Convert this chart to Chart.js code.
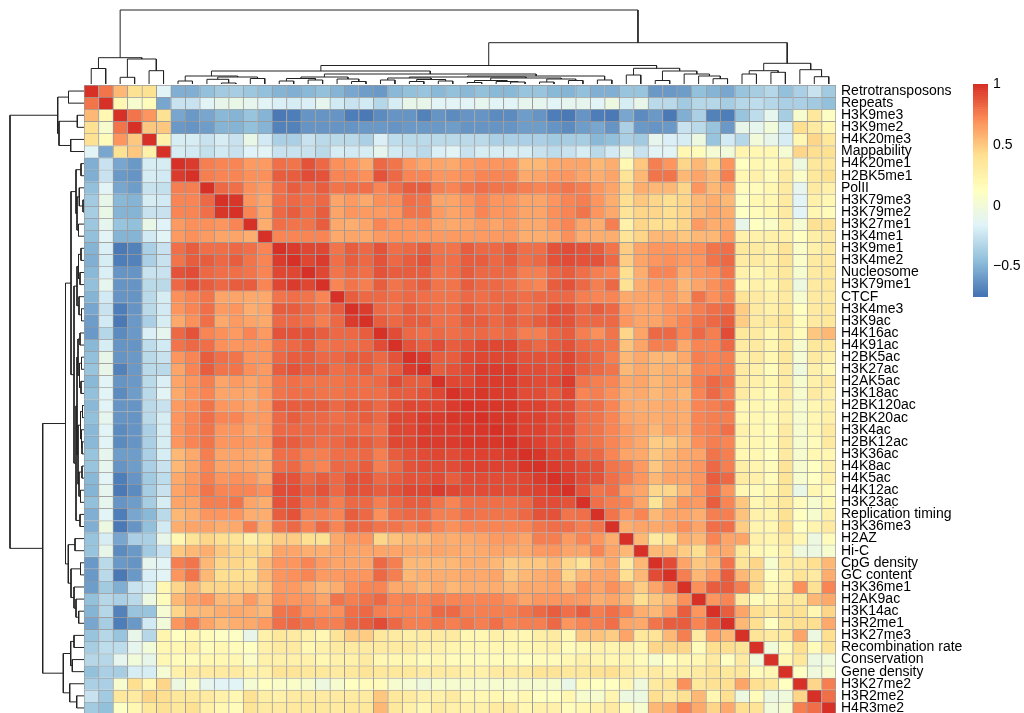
<!DOCTYPE html>
<html>
<head>
<meta charset="utf-8">
<script src="https://cdn.jsdelivr.net/npm/chart.js@4.4.1/dist/chart.umd.min.js"></script>
<style>
  html, body { margin: 0; padding: 0; background: #fff; overflow: hidden; }
  body { width: 1024px; height: 713px; position: relative; }
  canvas { position: absolute; }
</style>
</head>
<body>
<canvas id="topTree" width="752" height="84" style="left:84px;top:0px"></canvas>
<canvas id="leftTree" width="84" height="629" style="left:0px;top:85px"></canvas>
<canvas id="heat" width="940" height="629" style="left:84px;top:85px"></canvas>
<canvas id="key" width="51" height="233" style="left:973px;top:74px"></canvas>
<script>
// row / column order as drawn
const labels = ['Retrotransposons','Repeats','H3K9me3','H3K9me2','H4K20me3','Mappability','H4K20me1','H2BK5me1','PolII',
  'H3K79me3','H3K79me2','H3K27me1','H3K4me1','H3K9me1','H3K4me2','Nucleosome','H3K79me1','CTCF','H3K4me3','H3K9ac',
  'H4K16ac','H4K91ac','H2BK5ac','H3K27ac','H2AK5ac','H3K18ac','H2BK120ac','H2BK20ac','H3K4ac','H2BK12ac','H3K36ac',
  'H4K8ac','H4K5ac','H4K12ac','H3K23ac','Replication timing','H3K36me3','H2AZ','Hi-C','CpG density','GC content',
  'H3K36me1','H2AK9ac','H3K14ac','H3R2me1','H3K27me3','Recombination rate','Conservation','Gene density','H3K27me2',
  'H3R2me2','H4R3me2'];

// upper triangle of the correlation matrix: row i holds columns i+1 .. 52 (diagonal is 1)
const corrUpper = [
  [0.78,0.55,0.4,0.4,-0.15,-0.52,-0.52,-0.45,-0.4,-0.38,-0.41,-0.44,-0.5,-0.52,-0.48,-0.45,-0.5,-0.55,-0.58,-0.6,-0.48,-0.45,-0.42,-0.48,-0.45,-0.48,-0.45,-0.48,-0.48,-0.42,-0.42,-0.48,-0.5,-0.45,-0.52,-0.52,-0.42,-0.42,-0.6,-0.6,-0.58,-0.45,-0.5,-0.55,-0.42,-0.38,-0.32,-0.45,-0.35,-0.25,-0.4],
  [0.2,0.05,0.15,-0.55,-0.25,-0.25,-0.15,-0.1,-0.08,-0.12,-0.15,-0.18,-0.2,-0.18,-0.12,-0.22,-0.25,-0.22,-0.32,-0.2,-0.1,-0.1,-0.15,-0.15,-0.15,-0.12,-0.15,-0.15,-0.12,-0.12,-0.15,-0.12,-0.12,-0.15,-0.05,-0.2,-0.1,-0.3,-0.3,-0.4,-0.32,-0.32,-0.38,-0.32,-0.28,-0.32,-0.35,-0.35,-0.4,-0.45],
  [0.78,0.68,0.4,-0.55,-0.6,-0.55,-0.48,-0.5,-0.42,-0.5,-0.72,-0.7,-0.62,-0.62,-0.62,-0.7,-0.72,-0.65,-0.62,-0.62,-0.68,-0.62,-0.65,-0.62,-0.62,-0.65,-0.65,-0.58,-0.62,-0.7,-0.72,-0.62,-0.7,-0.72,-0.55,-0.65,-0.6,-0.72,-0.52,-0.35,-0.68,-0.7,-0.42,-0.28,-0.12,-0.38,0.05,0.35,0.1],
  [0.5,0.5,-0.6,-0.62,-0.58,-0.5,-0.5,-0.45,-0.5,-0.68,-0.68,-0.62,-0.62,-0.62,-0.62,-0.6,-0.6,-0.62,-0.6,-0.6,-0.6,-0.58,-0.62,-0.62,-0.62,-0.62,-0.58,-0.58,-0.62,-0.65,-0.58,-0.55,-0.62,-0.35,-0.6,-0.62,-0.6,-0.25,-0.3,-0.42,-0.6,-0.1,-0.12,0,-0.2,0.42,0.3,0.2],
  [0.25,-0.2,-0.2,-0.25,-0.2,-0.25,-0.08,-0.22,-0.35,-0.35,-0.25,-0.3,-0.3,-0.3,-0.35,-0.18,-0.28,-0.3,-0.3,-0.3,-0.3,-0.3,-0.3,-0.35,-0.35,-0.35,-0.35,-0.4,-0.38,-0.38,-0.48,-0.45,-0.35,-0.4,-0.12,-0.18,-0.2,-0.05,-0.42,-0.22,-0.32,0,-0.1,-0.2,0.2,0.45,0.35],
  [-0.2,-0.22,-0.27,-0.22,-0.25,-0.17,-0.15,-0.25,-0.25,-0.25,-0.3,-0.2,-0.22,-0.2,-0.12,-0.22,-0.25,-0.3,-0.18,-0.15,-0.25,-0.2,-0.2,-0.2,-0.2,-0.25,-0.28,-0.25,-0.2,-0.3,-0.22,-0.1,-0.25,-0.15,-0.15,0.2,0.15,0.02,0,0.22,0.2,0.18,0.02,0.45,0.42,0.4],
  [0.95,0.75,0.72,0.72,0.65,0.65,0.8,0.78,0.88,0.82,0.7,0.68,0.6,0.82,0.78,0.68,0.62,0.62,0.6,0.65,0.68,0.68,0.68,0.55,0.55,0.6,0.62,0.62,0.55,0.58,0.2,0.5,0.75,0.68,0.45,0.55,0.45,0.68,0.12,0.2,0.15,0.25,-0.05,0.35,0.35],
  [0.75,0.72,0.72,0.7,0.7,0.85,0.85,0.9,0.88,0.72,0.72,0.7,0.88,0.82,0.72,0.72,0.68,0.68,0.7,0.72,0.72,0.72,0.6,0.62,0.65,0.68,0.62,0.58,0.62,0.38,0.55,0.78,0.78,0.55,0.62,0.55,0.75,0.2,0.25,0.15,0.3,0.08,0.35,0.4],
  [0.82,0.8,0.7,0.65,0.8,0.85,0.82,0.85,0.78,0.8,0.8,0.72,0.8,0.85,0.85,0.75,0.72,0.78,0.8,0.78,0.78,0.75,0.72,0.75,0.78,0.75,0.68,0.62,0.45,0.58,0.55,0.55,0.45,0.68,0.55,0.62,0.15,0.15,0.2,0.3,-0.12,0.3,0.25],
  [0.97,0.68,0.62,0.8,0.82,0.8,0.82,0.62,0.65,0.6,0.7,0.7,0.8,0.78,0.62,0.62,0.68,0.72,0.68,0.68,0.62,0.62,0.68,0.72,0.75,0.68,0.58,0.42,0.5,0.45,0.42,0.45,0.55,0.58,0.55,0.1,0.2,0.2,0.3,-0.15,0.25,0.2],
  [0.72,0.62,0.82,0.85,0.8,0.85,0.62,0.68,0.65,0.65,0.68,0.78,0.78,0.65,0.62,0.65,0.72,0.68,0.68,0.62,0.62,0.7,0.72,0.78,0.68,0.6,0.38,0.45,0.45,0.42,0.45,0.55,0.6,0.58,0.1,0.15,0.2,0.3,-0.15,0.2,0.15],
  [0.58,0.8,0.78,0.78,0.85,0.6,0.58,0.62,0.72,0.68,0.68,0.7,0.62,0.6,0.62,0.65,0.62,0.65,0.6,0.6,0.68,0.72,0.62,0.58,0.75,0.25,0.45,0.42,0.42,0.45,0.65,0.58,0.6,-0.1,0.12,0.08,0.25,0.02,0.4,0.38],
  [0.72,0.72,0.72,0.72,0.6,0.62,0.6,0.65,0.68,0.68,0.65,0.65,0.65,0.65,0.65,0.65,0.65,0.58,0.58,0.6,0.7,0.58,0.58,0.58,0.38,0.45,0.55,0.55,0.5,0.55,0.55,0.65,0.25,0.25,0.25,0.25,0.12,0.28,0.3],
  [0.95,0.92,0.92,0.78,0.85,0.82,0.88,0.8,0.82,0.85,0.78,0.78,0.85,0.82,0.82,0.85,0.8,0.8,0.88,0.9,0.88,0.85,0.78,0.48,0.62,0.68,0.68,0.65,0.7,0.78,0.8,0.35,0.3,0.25,0.38,0.08,0.25,0.3],
  [0.92,0.95,0.8,0.85,0.82,0.88,0.82,0.85,0.88,0.8,0.8,0.85,0.85,0.82,0.85,0.8,0.82,0.88,0.9,0.88,0.88,0.82,0.48,0.62,0.68,0.7,0.65,0.68,0.78,0.82,0.3,0.3,0.25,0.38,0.08,0.3,0.32],
  [0.92,0.78,0.82,0.8,0.88,0.85,0.85,0.85,0.78,0.8,0.85,0.82,0.82,0.82,0.75,0.75,0.82,0.85,0.8,0.75,0.72,0.42,0.58,0.72,0.72,0.6,0.68,0.7,0.78,0.25,0.2,0.25,0.35,0.05,0.3,0.35],
  [0.72,0.78,0.75,0.85,0.78,0.82,0.85,0.78,0.78,0.85,0.82,0.82,0.8,0.75,0.72,0.85,0.88,0.82,0.75,0.82,0.4,0.58,0.65,0.65,0.55,0.62,0.7,0.75,0.2,0.25,0.2,0.35,-0.05,0.3,0.35],
  [0.85,0.82,0.82,0.8,0.82,0.8,0.78,0.78,0.82,0.8,0.82,0.82,0.8,0.82,0.82,0.82,0.75,0.72,0.72,0.6,0.62,0.62,0.65,0.58,0.78,0.7,0.75,0.38,0.3,0.25,0.3,0.05,0.3,0.3],
  [0.95,0.82,0.8,0.85,0.82,0.8,0.8,0.85,0.82,0.82,0.85,0.8,0.82,0.88,0.88,0.82,0.85,0.82,0.65,0.62,0.62,0.68,0.7,0.75,0.8,0.82,0.48,0.3,0.25,0.35,0.12,0.3,0.35],
  [0.85,0.82,0.85,0.85,0.8,0.8,0.85,0.85,0.82,0.85,0.82,0.85,0.88,0.88,0.82,0.82,0.82,0.68,0.62,0.62,0.68,0.72,0.78,0.82,0.85,0.48,0.3,0.3,0.38,0.15,0.3,0.35],
  [0.9,0.82,0.8,0.82,0.8,0.82,0.82,0.8,0.82,0.75,0.75,0.82,0.85,0.75,0.7,0.78,0.45,0.62,0.82,0.82,0.72,0.82,0.75,0.9,0.35,0.3,0.2,0.35,0.15,0.5,0.55],
  [0.88,0.85,0.9,0.85,0.88,0.92,0.92,0.92,0.85,0.82,0.85,0.88,0.82,0.8,0.78,0.52,0.62,0.75,0.75,0.6,0.72,0.72,0.82,0.3,0.3,0.2,0.35,0.05,0.35,0.35],
  [0.95,0.85,0.85,0.92,0.92,0.92,0.92,0.88,0.88,0.88,0.92,0.85,0.82,0.75,0.55,0.6,0.55,0.55,0.6,0.75,0.72,0.75,0.28,0.3,0.2,0.35,0.02,0.3,0.25],
  [0.85,0.88,0.92,0.95,0.95,0.95,0.9,0.9,0.88,0.92,0.85,0.82,0.78,0.55,0.6,0.55,0.58,0.55,0.72,0.72,0.75,0.3,0.25,0.15,0.3,-0.02,0.25,0.2],
  [0.92,0.92,0.95,0.95,0.95,0.92,0.9,0.9,0.95,0.78,0.75,0.72,0.6,0.62,0.55,0.58,0.6,0.75,0.82,0.78,0.3,0.25,0.2,0.3,0.05,0.25,0.3],
  [0.95,0.97,0.95,0.95,0.9,0.9,0.85,0.92,0.72,0.75,0.7,0.58,0.6,0.55,0.58,0.55,0.72,0.82,0.75,0.3,0.22,0.15,0.3,0.05,0.3,0.25],
  [0.97,0.97,0.97,0.93,0.93,0.9,0.9,0.8,0.8,0.72,0.6,0.58,0.58,0.6,0.58,0.72,0.75,0.78,0.2,0.2,0.15,0.25,0.05,0.2,0.25],
  [0.97,0.97,0.93,0.93,0.9,0.9,0.8,0.78,0.72,0.62,0.6,0.58,0.6,0.58,0.72,0.75,0.75,0.2,0.2,0.15,0.25,0.05,0.2,0.25],
  [0.97,0.93,0.93,0.9,0.9,0.8,0.78,0.72,0.65,0.62,0.55,0.62,0.58,0.72,0.75,0.8,0.25,0.2,0.15,0.3,0.05,0.2,0.3],
  [0.95,0.93,0.9,0.9,0.8,0.78,0.72,0.65,0.6,0.48,0.5,0.55,0.7,0.75,0.72,0.22,0.2,0.15,0.3,0.05,0.15,0.3],
  [0.97,0.92,0.92,0.82,0.82,0.72,0.62,0.6,0.5,0.55,0.6,0.62,0.78,0.75,0.2,0.2,0.12,0.3,0.05,0.2,0.2],
  [0.95,0.93,0.9,0.88,0.78,0.75,0.65,0.5,0.58,0.6,0.68,0.82,0.75,0.28,0.22,0.15,0.38,0.05,0.12,0.25],
  [0.95,0.9,0.88,0.8,0.75,0.68,0.55,0.62,0.62,0.68,0.85,0.82,0.3,0.25,0.15,0.38,0.05,0.12,0.25],
  [0.88,0.78,0.8,0.65,0.62,0.45,0.45,0.55,0.68,0.8,0.68,0.2,0.15,0.2,0.35,-0.08,0.2,0.15],
  [0.8,0.75,0.72,0.62,0.38,0.55,0.68,0.65,0.85,0.72,0.5,0.2,0.25,0.35,0.15,0.05,0.2],
  [0.78,0.68,0.72,0.55,0.62,0.62,0.58,0.75,0.75,0.52,0.25,0.22,0.4,0.12,0.05,0.25],
  [0.58,0.62,0.6,0.62,0.7,0.62,0.8,0.8,0.48,0.22,0.2,0.42,0.12,0.22,0.3],
  [0.55,0.3,0.42,0.58,0.55,0.72,0.62,0.62,0.25,0.22,0.3,0.2,-0.05,0.15],
  [0.55,0.55,0.48,0.42,0.58,0.6,0.35,0.2,0.15,0.25,-0.02,-0.05,0.05],
  [0.9,0.62,0.5,0.55,0.78,0.38,0.45,0.05,0.3,0.3,0.42,0.55],
  [0.75,0.55,0.65,0.85,0.55,0.45,0.12,0.25,0.38,0.3,0.58],
  [0.7,0.85,0.85,0.75,0.45,0.2,0.28,0.7,0.4,0.72],
  [0.68,0.72,0.3,0.15,0.2,0.3,0.35,0.55,0.6],
  [0.85,0.62,0.42,0.3,0.38,0.4,0.2,0.45],
  [0.55,0.42,0.12,0.35,0.42,0.42,0.6],
  [0.38,0.3,0.35,0.62,-0.05,0.42],
  [0,0.15,0.42,0.15,0.38],
  [0.2,0.35,-0.05,0],
  [0.12,-0.02,0.05],
  [0.45,0.75],
  [0.8]
];

// hclust style merges: negative = leaf (1-based), positive = earlier merge; third value = height
const merges = [
  [-1,-2,15.5], [-3,-4,6.7], [-5,-6,13.3], [2,3,25], [1,4,26.3],
  [-7,-8,3], [-10,-11,1], [-9,7,4.7], [-12,-13,5.5], [8,9,7], [6,10,8],
  [-14,-15,3], [-16,-17,4], [12,13,5.5], [-19,-20,2.5], [-18,15,5], [14,16,7],
  [-21,-22,4], [-23,-24,2.5], [-25,-26,3], [19,20,4.5], [18,21,6],
  [-27,-28,1.5], [-30,-31,2], [-29,24,2.5], [23,25,3.5], [-32,-33,2], [-34,-35,3.5], [27,28,5], [26,29,6], [22,30,7],
  [-36,-37,4], [31,32,8], [17,33,10], [11,34,13],
  [-38,-39,9], [-40,-41,3.5], [-44,-45,5.3], [-43,38,8], [-42,39,10], [37,40,13], [36,41,15.7], [35,42,18.5],
  [-46,-47,10], [-48,-49,11.7], [44,45,13.3], [-51,-52,7.3], [-50,47,14.3], [46,48,20.7],
  [43,49,41.3], [5,50,74]
];

const colorRange = [-0.75, 1];
const legendTicks = [-0.5, 0, 0.5, 1];
const rampColors = ['#4575B4','#91BFDB','#E0F3F8','#FFFFBF','#FEE090','#FC8D59','#D73027'];

Chart.defaults.font.family = 'Liberation Sans';
Chart.defaults.font.size = 14;
Chart.defaults.color = '#000';

const n = labels.length;
const corr = (i, j) => i === j ? 1 : i < j ? corrUpper[i][j - i - 1] : corrUpper[j][i - j - 1];

// 100 step palette like colorRampPalette
const hexToRgb = h => [1, 3, 5].map(k => parseInt(h.substr(k, 2), 16));
const palette = [];
for (let k = 0; k < 100; k++) {
  const t = k / 99 * (rampColors.length - 1);
  const s = Math.min(Math.floor(t), rampColors.length - 2), f = t - s;
  const a = hexToRgb(rampColors[s]), b = hexToRgb(rampColors[s + 1]);
  palette.push('rgb(' + a.map((v, q) => Math.round(v + (b[q] - v) * f)).join(',') + ')');
}
const colorFor = v => {
  const k = Math.floor((v - colorRange[0]) / (colorRange[1] - colorRange[0]) * 100);
  return palette[Math.max(0, Math.min(99, k))];
};

const quiet = { legend: { display: false }, tooltip: { enabled: false } };
// stop the label axes from pushing the plot area in
const noPad = w => s => { s.width = w; s.paddingTop = 0; s.paddingBottom = 0; };

// heatmap: one stacked bar dataset per row
new Chart(document.getElementById('heat'), {
  type: 'bar',
  data: {
    labels: labels,
    datasets: labels.map((name, i) => ({
      label: name,
      data: labels.map(() => 1),
      backgroundColor: labels.map((c, j) => colorFor(corr(i, j))),
      borderColor: '#999',
      borderWidth: ctx => ({ top: 1, left: 1, right: ctx.dataIndex === n - 1 ? 1 : 0, bottom: 0 }),
      borderSkipped: false,
      barPercentage: 1,
      categoryPercentage: 1
    }))
  },
  options: {
    responsive: false, animation: false, plugins: quiet,
    scales: {
      x: { stacked: true, display: false },
      y: { stacked: true, display: false, min: 0, max: n, reverse: true },
      names: {
        type: 'category', labels: labels, position: 'right', offset: true,
        grid: { display: false, drawTicks: false }, border: { display: false },
        ticks: { autoSkip: false, padding: 5 },
        afterFit: noPad(188)
      }
    }
  }
});

// dendrograms
const nodes = [];
const nodeAt = k => k < 0 ? { p: -k, h: 0 } : nodes[k - 1];
merges.forEach(([a, b, h]) => {
  const l = nodeAt(a), r = nodeAt(b);
  nodes.push({ p: (l.p + r.p) / 2, h: h, l: l, r: r });
});
const treeSets = flip => nodes.map(m => ({
  data: [[m.l.p, m.l.h], [m.l.p, m.h], [m.r.p, m.h], [m.r.p, m.r.h]]
    .map(([p, h]) => flip ? { x: h, y: p } : { x: p, y: h }),
  showLine: true, borderColor: '#222', borderWidth: 1, pointRadius: 0, clip: false
}));

new Chart(document.getElementById('topTree'), {
  type: 'scatter',
  data: { datasets: treeSets(false) },
  options: {
    responsive: false, animation: false, plugins: quiet,
    scales: {
      x: { display: false, min: 0.5, max: n + 0.5 },
      y: { display: false, min: 0, max: 84 }
    }
  }
});

new Chart(document.getElementById('leftTree'), {
  type: 'scatter',
  data: { datasets: treeSets(true) },
  options: {
    responsive: false, animation: false, plugins: quiet,
    scales: {
      x: { display: false, min: 0, max: 84, reverse: true },
      y: { display: false, min: 0.5, max: n + 0.5, reverse: true }
    }
  }
});

// colour key
const lo = colorRange[0], hi = colorRange[1];
new Chart(document.getElementById('key'), {
  type: 'bar',
  data: {
    labels: [''],
    datasets: palette.map((c, k) => ({
      data: [[lo + (hi - lo) * k / 100, lo + (hi - lo) * (k + 1) / 100]],
      backgroundColor: c, grouped: false, barPercentage: 1, categoryPercentage: 1, borderWidth: 0
    }))
  },
  options: {
    responsive: false, animation: false, plugins: quiet,
    layout: { padding: { top: 10, bottom: 10 } },
    scales: {
      x: { display: false },
      y: {
        position: 'right', min: lo, max: hi,
        grid: { display: false, drawTicks: false }, border: { display: false },
        afterBuildTicks: s => { s.ticks = legendTicks.map(v => ({ value: v })); },
        ticks: { padding: 5, callback: v => v < 0 ? '\u2212' + Math.abs(v) : String(v) },
        afterFit: noPad(36)
      }
    }
  }
});
</script>
</body>
</html>
